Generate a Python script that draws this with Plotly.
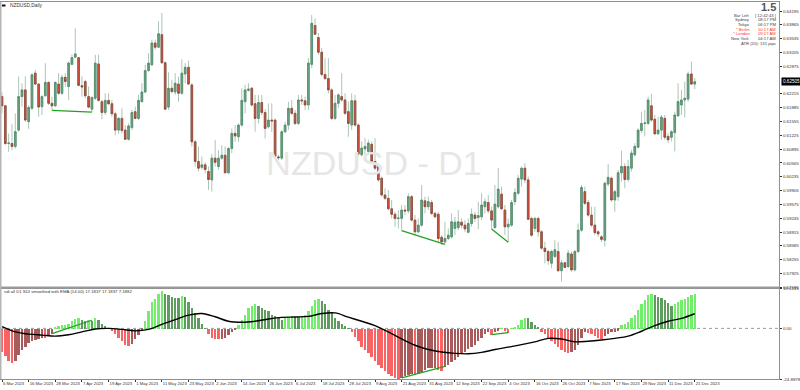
import plotly.graph_objects as go

# ---------------- data ----------------
tick_labels = ["6 Mar 2023", "16 Mar 2023", "28 Mar 2023", "7 Apr 2023", "19 Apr 2023", "1 May 2023",
               "11 May 2023", "23 May 2023", "2 Jun 2023", "14 Jun 2023", "26 Jun 2023", "6 Jul 2023",
               "18 Jul 2023", "28 Jul 2023", "9 Aug 2023", "21 Aug 2023", "31 Aug 2023", "12 Sep 2023",
               "22 Sep 2023", "4 Oct 2023", "16 Oct 2023", "26 Oct 2023", "7 Nov 2023", "17 Nov 2023",
               "29 Nov 2023", "11 Dec 2023", "21 Dec 2023"]

ohlc = [
    (0.6215, 0.6225, 0.6175, 0.6193), (0.6193, 0.6195, 0.6099, 0.6103), (0.6103, 0.6127, 0.6083, 0.6104),
    (0.6103, 0.6150, 0.6087, 0.6096), (0.6096, 0.6175, 0.6091, 0.6131), (0.6135, 0.6263, 0.6131, 0.6215),
    (0.6215, 0.6247, 0.6191, 0.6231), (0.6231, 0.6263, 0.6155, 0.6159), (0.6155, 0.6195, 0.6138, 0.6189),
    (0.6187, 0.6271, 0.6183, 0.6267), (0.6271, 0.6279, 0.6243, 0.6245), (0.6245, 0.6247, 0.6167, 0.6190),
    (0.6191, 0.6219, 0.6171, 0.6215), (0.6217, 0.6295, 0.6215, 0.6249), (0.6249, 0.6251, 0.6195, 0.6199),
    (0.6199, 0.6215, 0.6182, 0.6193), (0.6193, 0.6251, 0.6191, 0.6249), (0.6245, 0.6271, 0.6219, 0.6223),
    (0.6223, 0.6267, 0.6219, 0.6261), (0.6261, 0.6271, 0.6239, 0.6251), (0.6239, 0.6299, 0.6207, 0.6295),
    (0.6292, 0.6316, 0.6291, 0.6308), (0.6309, 0.6378, 0.6307, 0.6317), (0.6308, 0.6309, 0.6239, 0.6242),
    (0.6241, 0.6263, 0.6215, 0.6238), (0.6251, 0.6255, 0.6211, 0.6217), (0.6215, 0.6239, 0.6187, 0.6190),
    (0.6185, 0.6215, 0.6178, 0.6213), (0.6211, 0.6315, 0.6207, 0.6295), (0.6293, 0.6315, 0.6203, 0.6206),
    (0.6203, 0.6207, 0.6161, 0.6177), (0.6177, 0.6223, 0.6171, 0.6206), (0.6206, 0.6223, 0.6195, 0.6198),
    (0.6198, 0.6207, 0.6167, 0.6174), (0.6174, 0.6179, 0.6123, 0.6135), (0.6135, 0.6166, 0.6126, 0.6163),
    (0.6163, 0.6187, 0.6127, 0.6134), (0.6135, 0.6147, 0.6111, 0.6113), (0.6113, 0.6151, 0.6110, 0.6145),
    (0.6141, 0.6183, 0.6135, 0.6177), (0.6179, 0.6191, 0.6161, 0.6163), (0.6163, 0.6219, 0.6159, 0.6206),
    (0.6203, 0.6247, 0.6201, 0.6226), (0.6226, 0.6291, 0.6223, 0.6277), (0.6277, 0.6319, 0.6275, 0.6295),
    (0.6291, 0.6351, 0.6288, 0.6343), (0.6343, 0.6351, 0.6327, 0.6333), (0.6333, 0.6395, 0.6331, 0.6365),
    (0.6363, 0.6415, 0.6293, 0.6296), (0.6296, 0.6299, 0.6183, 0.6185), (0.6190, 0.6273, 0.6183, 0.6235),
    (0.6235, 0.6255, 0.6223, 0.6227), (0.6226, 0.6271, 0.6219, 0.6247), (0.6245, 0.6263, 0.6203, 0.6223),
    (0.6223, 0.6304, 0.6219, 0.6271), (0.6269, 0.6295, 0.6247, 0.6285), (0.6285, 0.6301, 0.6243, 0.6245),
    (0.6243, 0.6247, 0.6096, 0.6107), (0.6107, 0.6111, 0.6048, 0.6060), (0.6060, 0.6096, 0.6036, 0.6044),
    (0.6046, 0.6072, 0.6040, 0.6052), (0.6052, 0.6058, 0.6032, 0.6041), (0.6036, 0.6048, 0.5992, 0.6017),
    (0.6016, 0.6078, 0.5988, 0.6068), (0.6068, 0.6111, 0.6048, 0.6058), (0.6048, 0.6087, 0.6040, 0.6068),
    (0.6068, 0.6099, 0.6064, 0.6075), (0.6075, 0.6096, 0.6032, 0.6033), (0.6033, 0.6094, 0.6030, 0.6091),
    (0.6091, 0.6139, 0.6080, 0.6127), (0.6127, 0.6147, 0.6107, 0.6121), (0.6119, 0.6151, 0.6107, 0.6147),
    (0.6147, 0.6235, 0.6143, 0.6206), (0.6203, 0.6243, 0.6175, 0.6231), (0.6230, 0.6247, 0.6227, 0.6233),
    (0.6235, 0.6238, 0.6191, 0.6195), (0.6198, 0.6219, 0.6131, 0.6163), (0.6163, 0.6219, 0.6151, 0.6201),
    (0.6201, 0.6219, 0.6171, 0.6177), (0.6177, 0.6185, 0.6115, 0.6139), (0.6143, 0.6199, 0.6139, 0.6159),
    (0.6159, 0.6199, 0.6131, 0.6157), (0.6159, 0.6163, 0.6068, 0.6072), (0.6071, 0.6076, 0.6064, 0.6069),
    (0.6068, 0.6135, 0.6064, 0.6131), (0.6131, 0.6155, 0.6128, 0.6147), (0.6147, 0.6203, 0.6135, 0.6187),
    (0.6187, 0.6207, 0.6171, 0.6175), (0.6175, 0.6183, 0.6147, 0.6151), (0.6151, 0.6219, 0.6147, 0.6207),
    (0.6207, 0.6219, 0.6195, 0.6205), (0.6205, 0.6215, 0.6183, 0.6195), (0.6195, 0.6307, 0.6183, 0.6295),
    (0.6292, 0.6410, 0.6283, 0.6390), (0.6385, 0.6402, 0.6362, 0.6364), (0.6356, 0.6367, 0.6315, 0.6321),
    (0.6321, 0.6331, 0.6263, 0.6268), (0.6268, 0.6307, 0.6254, 0.6258), (0.6258, 0.6307, 0.6223, 0.6231),
    (0.6231, 0.6235, 0.6159, 0.6163), (0.6163, 0.6219, 0.6159, 0.6199), (0.6199, 0.6223, 0.6187, 0.6219),
    (0.6215, 0.6271, 0.6203, 0.6207), (0.6207, 0.6223, 0.6171, 0.6175), (0.6179, 0.6203, 0.6119, 0.6151),
    (0.6147, 0.6223, 0.6135, 0.6205), (0.6205, 0.6219, 0.6143, 0.6147), (0.6147, 0.6151, 0.6074, 0.6078),
    (0.6076, 0.6108, 0.6072, 0.6092), (0.6090, 0.6116, 0.6072, 0.6096), (0.6084, 0.6112, 0.6080, 0.6104),
    (0.6101, 0.6108, 0.6056, 0.6060), (0.6060, 0.6116, 0.6040, 0.6044), (0.6048, 0.6052, 0.6012, 0.6016),
    (0.6020, 0.6024, 0.5976, 0.5980), (0.5980, 0.5996, 0.5968, 0.5972), (0.5972, 0.5992, 0.5944, 0.5947),
    (0.5947, 0.5968, 0.5924, 0.5934), (0.5934, 0.5940, 0.5904, 0.5924), (0.5924, 0.5944, 0.5900, 0.5925),
    (0.5924, 0.5956, 0.5895, 0.5944), (0.5944, 0.5956, 0.5932, 0.5942), (0.5942, 0.5984, 0.5936, 0.5976),
    (0.5976, 0.5980, 0.5916, 0.5920), (0.5920, 0.5932, 0.5884, 0.5892), (0.5892, 0.5924, 0.5888, 0.5908),
    (0.5908, 0.6004, 0.5904, 0.5968), (0.5966, 0.5976, 0.5936, 0.5952), (0.5952, 0.5976, 0.5944, 0.5964),
    (0.5962, 0.5968, 0.5932, 0.5936), (0.5936, 0.5940, 0.5924, 0.5928), (0.5934, 0.5940, 0.5868, 0.5876),
    (0.5879, 0.5884, 0.5860, 0.5868), (0.5868, 0.5916, 0.5862, 0.5876), (0.5876, 0.5900, 0.5872, 0.5884),
    (0.5880, 0.5936, 0.5876, 0.5916), (0.5900, 0.5928, 0.5884, 0.5915), (0.5902, 0.5944, 0.5896, 0.5916),
    (0.5915, 0.5924, 0.5900, 0.5908), (0.5908, 0.5920, 0.5892, 0.5899), (0.5891, 0.5924, 0.5888, 0.5912),
    (0.5912, 0.5948, 0.5904, 0.5934), (0.5932, 0.5940, 0.5916, 0.5924), (0.5926, 0.5964, 0.5898, 0.5931),
    (0.5928, 0.5984, 0.5920, 0.5956), (0.5952, 0.5972, 0.5936, 0.5964), (0.5962, 0.5980, 0.5936, 0.5942),
    (0.5942, 0.5952, 0.5899, 0.5920), (0.5902, 0.6004, 0.5900, 0.5958), (0.5952, 0.6044, 0.5948, 0.5994),
    (0.5982, 0.6000, 0.5944, 0.5947), (0.5944, 0.5956, 0.5884, 0.5904), (0.5904, 0.5924, 0.5867, 0.5910),
    (0.5908, 0.5968, 0.5904, 0.5962), (0.5964, 0.5996, 0.5956, 0.5986), (0.5984, 0.6028, 0.5980, 0.6020),
    (0.6018, 0.6048, 0.6000, 0.6044), (0.6044, 0.6056, 0.6008, 0.6016), (0.6016, 0.6024, 0.5920, 0.5922),
    (0.5924, 0.5928, 0.5880, 0.5884), (0.5900, 0.5928, 0.5892, 0.5924), (0.5924, 0.5928, 0.5880, 0.5892),
    (0.5892, 0.5896, 0.5849, 0.5853), (0.5853, 0.5868, 0.5817, 0.5845), (0.5845, 0.5849, 0.5813, 0.5823),
    (0.5817, 0.5849, 0.5805, 0.5845), (0.5833, 0.5872, 0.5829, 0.5849), (0.5845, 0.5868, 0.5797, 0.5799),
    (0.5799, 0.5825, 0.5773, 0.5818), (0.5818, 0.5821, 0.5805, 0.5807), (0.5809, 0.5849, 0.5805, 0.5841),
    (0.5839, 0.5845, 0.5797, 0.5801), (0.5801, 0.5849, 0.5797, 0.5845), (0.5845, 0.5912, 0.5841, 0.5896),
    (0.5896, 0.6004, 0.5892, 0.5998), (0.5988, 0.6000, 0.5956, 0.5960), (0.5962, 0.5968, 0.5928, 0.5932),
    (0.5932, 0.5952, 0.5904, 0.5908), (0.5908, 0.5952, 0.5884, 0.5890), (0.5892, 0.5896, 0.5880, 0.5887),
    (0.5880, 0.5884, 0.5868, 0.5874), (0.5872, 0.6012, 0.5857, 0.6008), (0.6006, 0.6054, 0.6000, 0.6022),
    (0.6020, 0.6024, 0.5964, 0.5968), (0.5968, 0.5992, 0.5940, 0.5988), (0.5976, 0.6040, 0.5966, 0.6033),
    (0.6033, 0.6086, 0.6012, 0.6048), (0.6048, 0.6056, 0.5996, 0.6017), (0.6017, 0.6064, 0.6012, 0.6048),
    (0.6044, 0.6088, 0.6036, 0.6080), (0.6076, 0.6104, 0.6072, 0.6096), (0.6094, 0.6139, 0.6092, 0.6135),
    (0.6134, 0.6179, 0.6128, 0.6151), (0.6151, 0.6183, 0.6120, 0.6152), (0.6151, 0.6215, 0.6147, 0.6207),
    (0.6193, 0.6222, 0.6155, 0.6159), (0.6161, 0.6171, 0.6124, 0.6126), (0.6126, 0.6167, 0.6124, 0.6135),
    (0.6135, 0.6171, 0.6112, 0.6166), (0.6163, 0.6171, 0.6112, 0.6118), (0.6120, 0.6128, 0.6104, 0.6112),
    (0.6118, 0.6135, 0.6108, 0.6131), (0.6129, 0.6179, 0.6084, 0.6171), (0.6169, 0.6247, 0.6167, 0.6203),
    (0.6195, 0.6231, 0.6171, 0.6207), (0.6207, 0.6251, 0.6165, 0.6211), (0.6209, 0.6275, 0.6203, 0.6269),
    (0.6269, 0.6299, 0.6243, 0.6245), (0.6245, 0.6259, 0.6233, 0.62505),
]
opens = [r[0] for r in ohlc]
highs = [r[1] for r in ohlc]
lows = [r[2] for r in ohlc]
closes = [r[3] for r in ohlc]

hist_vals = [
    -11.3, -13.5, -15.6, -17.0, -15.6, -13.0, -10.4, -8.7, -6.9, -6.1,
    -5.5, -5.2, -4.3, -4.5, -3.1, -2.6, 0.9, 1.4, 1.7, 2.1,
    2.6, 3.8, 4.9, 5.2, 4.3, 3.8, 4.3, 4.0, 5.2, 4.3,
    2.6, 1.4, 0.3, -0.9, -2.6, -4.3, -6.1, -7.8, -8.3, -7.3,
    -5.2, -3.1, -0.9, 3.8, 8.7, 13.0, 14.7, 17.3, 18.6, 17.3,
    16.5, 15.6, 15.3, 15.0, 16.2, 15.6, 13.0, 10.4, 7.8, 5.2,
    2.6, 0.2, -2.6, -4.3, -4.9, -5.2, -4.9, -4.3, -3.1, -1.7,
    -0.3, 1.7, 4.3, 6.9, 10.4, 11.3, 12.1, 11.3, 10.4, 9.5,
    8.7, 6.9, 6.1, 5.2, 4.3, 5.2, 5.5, 6.1, 5.9, 5.7,
    6.1, 6.9, 8.7, 11.3, 14.2, 14.7, 13.9, 12.1, 9.5, 7.8,
    5.5, 3.8, 2.6, 1.4, 0.3, -1.7, -3.8, -6.1, -8.7, -10.4,
    -12.1, -13.9, -15.6, -17.7, -19.4, -20.8, -22.2, -23.4, -24.3, -24.6,
    -24.3, -23.4, -22.5, -22.2, -22.5, -22.2, -21.1, -20.4, -19.4, -19.2,
    -19.0, -20.0, -20.6, -18.9, -17.7, -16.5, -15.3, -13.9, -12.1, -11.3,
    -10.1, -8.7, -7.8, -6.1, -4.3, -2.6, -1.7, -3.1, -1.7, -0.9,
    0.3, -0.9, -2.1, 0.2, 0.9, 1.7, 4.3, 5.5, 5.2, 3.5,
    2.1, 0.9, -1.4, -2.6, -5.2, -6.1, -7.3, -8.7, -10.4, -11.3,
    -11.8, -11.6, -10.4, -7.8, -4.3, -1.7, -2.1, -2.6, -3.5, -4.3,
    -5.2, -3.5, -2.6, -1.7, -1.4, -0.9, 1.7, 2.6, 3.5, 5.2,
    6.9, 9.5, 12.1, 14.2, 16.5, 17.3, 16.5, 15.6, 15.3, 14.2,
    12.5, 11.3, 12.1, 13.0, 14.2, 14.7, 15.9, 16.8, 17.2,
]

# EMA(14) of the histogram, read every 4th bar
ema_vals = [0.9, -1.7, -2.8, -3.3, -3.8, -3.1, -1.7, -0.3, 0.0, -0.5,
            -1.2, -0.5, 2.0, 4.3, 6.5, 7.3, 5.7, 3.5, 3.0, 3.5,
            4.6, 5.4, 5.6, 5.9, 7.3, 7.6, 5.5, 3.5, 1.4, -1.7,
            -5.2, -8.3, -10.4, -11.6, -12.3, -12.5, -11.8, -10.4, -9.2, -8.0,
            -6.6, -4.9, -5.2, -6.6, -6.3, -5.7, -4.9, -3.8, -1.4, 1.4,
            3.5, 4.9, 7.2]

# visible price-axis labels (0.62545 is hidden behind the current-price box)
price_ticks = [0.64195, 0.63865, 0.63535, 0.63205, 0.62875, 0.62215, 0.61885, 0.61555,
               0.61225, 0.60895, 0.60565, 0.60235, 0.59905, 0.59575, 0.59245, 0.58915, 0.58585,
               0.58255, 0.57925, 0.57595]
ind_max, ind_min = 19.6133, -24.8878

div_bars = [(15, 27), (120, 133), (147, 152)]
div_price = [(0.6182, 0.6178), (0.5895, 0.5862), (0.5899, 0.5867)]
div_ind = [(-2.6, 4.0), (-24.3, -18.7), (-3.1, -2.1)]

info_rows = [("Bar Left", "[ 12:42:43 ]", "#444444"), ("Sydney", "08:17 PM", "#444444"),
             ("Tokyo", "06:17 PM", "#444444"), ("* Berlin", "10:17 AM", "#ff3333"),
             ("* London", "09:17 AM", "#ff3333"), ("New York", "04:17 AM", "#444444")]

# ---------------- figure ----------------
n = len(closes)
idx = list(range(n))
FONT = "Liberation Sans"
W, H = 800, 390
ML, MR, MT, MB = 1, 21, 2, 11
PW, PH = W - ML - MR, H - MT - MB


def px(xp):
    return (xp - ML) / PW


def py(yp):
    return (H - MB - yp) / PH


fig = go.Figure()

# watermark (behind candles)
fig.add_trace(go.Scatter(x=[111.7], y=[0.6049], mode="text", text=["NZDUSD - D1"],
                         textfont=dict(family=FONT, size=34, color="#e6e6e6"),
                         hoverinfo="skip", showlegend=False, xaxis="x", yaxis="y"))

# wicks
fig.add_trace(go.Candlestick(x=idx, open=opens, high=highs, low=lows, close=closes,
                             increasing=dict(line=dict(color="#adc5b7", width=1), fillcolor="#adc5b7"),
                             decreasing=dict(line=dict(color="#adc5b7", width=1), fillcolor="#adc5b7"),
                             whiskerwidth=0, showlegend=False, hoverinfo="skip", xaxis="x", yaxis="y"))
# bodies
body_hi = [max(o, c) for o, c in zip(opens, closes)]
body_lo = [min(o, c) for o, c in zip(opens, closes)]
fig.add_trace(go.Candlestick(x=idx, open=opens, high=body_hi, low=body_lo, close=closes,
                             increasing=dict(line=dict(color="#4e8a69", width=0.8), fillcolor="#6fa587"),
                             decreasing=dict(line=dict(color="#8b4535", width=0.8), fillcolor="#e2513f"),
                             whiskerwidth=0, showlegend=False, hoverinfo="skip", xaxis="x", yaxis="y"))

# histogram colours
cols = []
for i, v in enumerate(hist_vals):
    prev = hist_vals[i - 1] if i > 0 else v
    if v >= 0:
        cols.append("#72ee6c" if v >= prev else "#5f9c5f")
    else:
        cols.append("#f86464" if v <= prev else "#a95a5a")
fig.add_trace(go.Bar(x=idx, y=hist_vals, marker=dict(color=cols, line=dict(width=0)), width=0.72,
                     showlegend=False, hoverinfo="skip", xaxis="x2", yaxis="y2"))

fig.add_trace(go.Scatter(x=idx[::4], y=ema_vals, mode="lines", line=dict(color="#000000", width=1.4, shape="spline"),
                         showlegend=False, hoverinfo="skip", xaxis="x2", yaxis="y2"))

for (b0, b1), (p0, p1), (v0, v1) in zip(div_bars, div_price, div_ind):
    fig.add_trace(go.Scatter(x=[b0, b1], y=[p0, p1], mode="lines", line=dict(color="#23a023", width=1.3),
                             showlegend=False, hoverinfo="skip", xaxis="x", yaxis="y"))
    fig.add_trace(go.Scatter(x=[b0, b1], y=[v0, v1], mode="lines", line=dict(color="#23a023", width=1.3),
                             showlegend=False, hoverinfo="skip", xaxis="x2", yaxis="y2"))

xr = [-0.3, 233.3]
main_dom = [py(287.5), 1.0]
ind_dom = [0.0, py(288.5)]
axcol = "#8f8f8f"
TF = 4.4

fig.update_layout(
    width=W, height=H, margin=dict(l=ML, r=MR, t=MT, b=MB, autoexpand=False),
    paper_bgcolor="white", plot_bgcolor="white", showlegend=False,
    font=dict(family=FONT, size=5, color="#333333"),
    bargap=0,
    xaxis=dict(domain=[0, 1], range=xr, showticklabels=False, showgrid=False, zeroline=False,
               showline=True, mirror=True, linecolor=axcol, linewidth=1, rangeslider=dict(visible=False),
               anchor="y", automargin=False),
    yaxis=dict(domain=main_dom, range=[0.5759, 0.6441], side="right", tickvals=price_ticks,
               ticktext=["%.5f" % t for t in price_ticks], tickfont=dict(size=TF, color="#333333"),
               ticks="outside", ticklen=2, tickcolor="#333333", showgrid=False, zeroline=False,
               showline=True, mirror=True, linecolor=axcol, linewidth=1, anchor="x", automargin=False),
    xaxis2=dict(domain=[0, 1], range=xr, matches="x", tickvals=idx[::8], ticktext=tick_labels,
                tickangle=0, tickfont=dict(size=4.2, color="#333333"), ticks="outside", ticklen=2,
                tickcolor="#333333", ticklabelposition="outside right", showgrid=False, zeroline=False,
                showline=True, mirror=True, linecolor=axcol, linewidth=1, rangeslider=dict(visible=False),
                anchor="y2", automargin=False),
    yaxis2=dict(domain=ind_dom, range=[ind_min, ind_max], side="right",
                tickvals=[ind_max, 0, ind_min], ticktext=["%.4f" % ind_max, "0.00", "%.4f" % ind_min],
                tickfont=dict(size=TF, color="#333333"), ticks="outside", ticklen=2, tickcolor="#333333",
                showgrid=False, zeroline=False, showline=True, mirror=True, linecolor=axcol, linewidth=1,
                anchor="x2", automargin=False),
)

shapes = [
    dict(type="line", xref="x2", yref="y2", x0=xr[0], x1=xr[1], y0=0, y1=0, layer="below",
         line=dict(color="#9a9a9a", width=1, dash="dot")),
    dict(type="line", xref="paper", yref="paper", x0=0, x1=1, y0=py(287.5), y1=py(287.5),
         line=dict(color="#9a9a9a", width=2)),
    dict(type="line", xref="paper", yref="paper", x0=px(0.5), x1=px(0.5), y0=0, y1=1,
         line=dict(color="#b5b5b5", width=2)),
    dict(type="rect", xref="paper", yref="paper", x0=px(2), x1=px(5.5), y0=py(6.5), y1=py(4.5),
         fillcolor="#111111", line=dict(width=0)),
]
fig.update_layout(shapes=shapes)

ann = [
    dict(text="NZDUSD,Daily", x=px(8), y=py(5.5), xanchor="left", yanchor="middle",
         font=dict(size=4.8, color="#333333")),
    dict(text="sdi all D1 SDI smoothed with EMA (14.00) 17.1837 17.1837 7.1882", x=px(2), y=py(291.5),
         xanchor="left", yanchor="middle", font=dict(size=4.3, color="#333333")),
    dict(text="<b>1.5</b>", x=px(778), y=py(7.5), xanchor="right", yanchor="middle",
         font=dict(size=11, color="#555555")),
    dict(text="ATR (20): 131 pips", x=px(778), y=py(43.3), xanchor="right", yanchor="middle",
         font=dict(size=4.2, color="#444444")),
]
row_y = [15.3, 19.9, 24.5, 29.1, 33.8, 38.5]
for (lab, val, c), yy in zip(info_rows, row_y):
    ann.append(dict(text=lab, x=px(752), y=py(yy), xanchor="right", yanchor="middle",
                    font=dict(size=4.2, color=c)))
    ann.append(dict(text=val, x=px(778), y=py(yy), xanchor="right", yanchor="middle",
                    font=dict(size=4.2, color=c)))
for a in ann:
    a.update(xref="paper", yref="paper", showarrow=False)

ann.append(dict(text="%.5f" % closes[-1], xref="paper", yref="y", x=1.0, y=closes[-1], xshift=2,
                xanchor="left", yanchor="middle", showarrow=False, bgcolor="#000000",
                font=dict(size=4.6, color="#ffffff"), borderpad=1))
fig.update_layout(annotations=ann)

fig.write_html("out.html")
